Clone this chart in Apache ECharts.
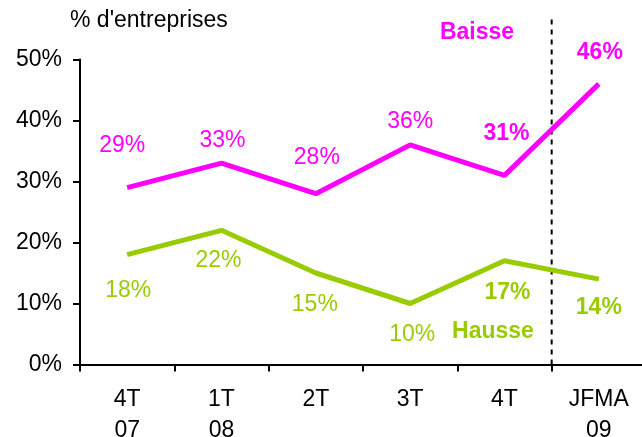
<!DOCTYPE html>
<html>
<head>
<meta charset="utf-8">
<script src="https://cdn.jsdelivr.net/npm/echarts@6/dist/echarts.min.js"></script>
<style>
html,body{margin:0;padding:0;background:#fff;}
#chart{width:642px;height:437px;}
</style>
</head>
<body>
<div id="chart"></div>
<script>
const categories = ['4T\n07', '1T\n08', '2T', '3T', '4T', 'JFMA\n09'];
const baisse = [29, 33, 28, 36, 31, 46];
const hausse = [18, 22, 15, 10, 17, 14];
const yTicks = [0, 10, 20, 30, 40, 50];
const dividerAt = 5;      // boundary between 4T and JFMA 09 (category units)
const dividerTop = 57;    // dashed line runs up above the plot
const boldFrom = 4;       // last two values are printed in bold

const FONT = '"Liberation Sans", Arial, Helvetica, sans-serif';
const MAGENTA = '#FF00FF';
const GREEN = '#99CC00';

const baisseOffsets = [[-5,-42],[1,-23],[1,-36],[0,-23],[2,-42],[1,-31]];
const hausseOffsets = [[1,36],[-3,30],[-1,32],[2,31],[3,32],[0,29]];

function build(values, offsets, color) {
  return values.map((v, i) => ({
    value: v,
    label: {
      show: true,
      position: 'inside',
      offset: offsets[i],
      formatter: v + '%',
      color: color,
      fontFamily: FONT,
      fontSize: 23,
      fontWeight: i >= boldFrom ? 'bold' : 'normal'
    }
  }));
}

const chart = echarts.init(document.getElementById('chart'), null, {renderer: 'canvas'});
chart.setOption({
  animation: false,
  backgroundColor: '#fff',
  grid: {left: 80, top: 59.5, width: 566, height: 305, containLabel: false, outerBoundsMode: 'none'},
  xAxis: [{
    type: 'category',
    data: categories,
    boundaryGap: true,
    axisLine: {lineStyle: {color: '#000', width: 2}},
    axisTick: {show: true, length: 7, inside: false, lineStyle: {color: '#000', width: 2}},
    axisLabel: {color: '#000', fontFamily: FONT, fontSize: 23, lineHeight: 31, margin: 20, interval: 0},
    splitLine: {show: false}
  }, {
    type: 'value',
    min: 0, max: categories.length,
    show: false,
    gridIndex: 0
  }],
  yAxis: {
    type: 'value',
    min: yTicks[0], max: yTicks[yTicks.length - 1], interval: 10,
    axisLine: {show: true, lineStyle: {color: '#000', width: 2}},
    axisTick: {show: true, length: 7, lineStyle: {color: '#000', width: 2}},
    axisLabel: {color: '#000', fontFamily: FONT, fontSize: 23, margin: 18, formatter: '{value}%'},
    splitLine: {show: false}
  },
  graphic: [
    {type: 'text', left: 70, top: 9, style: {text: "% d'entreprises", fill: '#000', font: '23px ' + FONT}},
    {type: 'text', x: 477, y: 33, style: {text: 'Baisse', fill: MAGENTA, font: 'bold 23px ' + FONT, align: 'center', verticalAlign: 'middle'}},
    {type: 'text', x: 493, y: 332, style: {text: 'Hausse', fill: GREEN, font: 'bold 23px ' + FONT, align: 'center', verticalAlign: 'middle'}}
  ],
  series: [
    {
      type: 'line',
      data: build(baisse, baisseOffsets, MAGENTA),
      symbol: 'circle', symbolSize: 0.1,
      itemStyle: {color: MAGENTA},
      lineStyle: {color: MAGENTA, width: 5},
      z: 3
    },
    {
      type: 'line',
      data: build(hausse, hausseOffsets, GREEN),
      symbol: 'circle', symbolSize: 0.1,
      itemStyle: {color: GREEN},
      lineStyle: {color: GREEN, width: 5},
      z: 3
    },
    {
      type: 'line',
      xAxisIndex: 1,
      data: [[dividerAt, 0], [dividerAt, dividerTop]],
      symbol: 'none',
      clip: false,
      lineStyle: {color: '#000', width: 2, type: [5, 5]},
      silent: true,
      z: 2
    }
  ]
});
</script>
</body>
</html>
